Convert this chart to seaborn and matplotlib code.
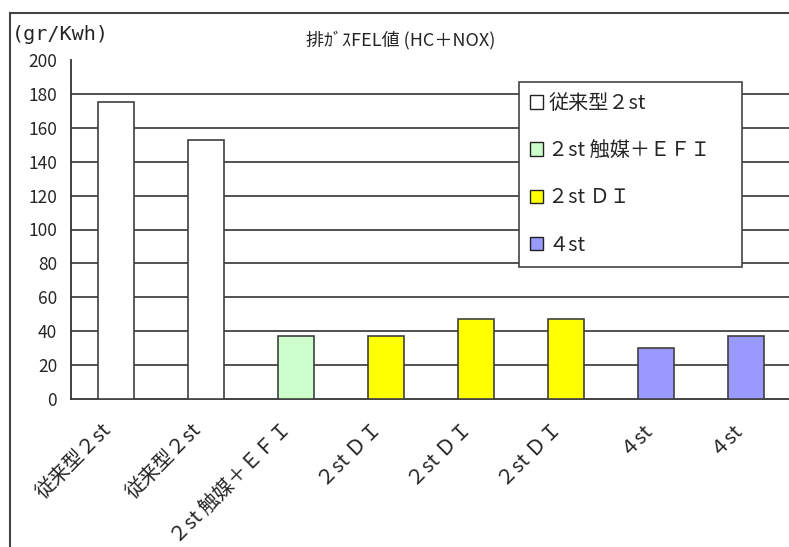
import numpy as np
import pandas as pd
import seaborn as sns
import matplotlib.pyplot as plt
from matplotlib.patches import Patch, Rectangle

# data
tick_labels = ['従来型２st', '従来型２st', '２st 触媒＋ＥＦＩ', '２st ＤＩ',
               '２st ＤＩ', '２st ＤＩ', '４st', '４st']
groups = ['従来型２st', '従来型２st', '２st 触媒＋ＥＦＩ', '２st ＤＩ',
          '２st ＤＩ', '２st ＤＩ', '４st', '４st']
values = [175, 153, 37, 37, 47, 47, 30, 37]
group_order = ['従来型２st', '２st 触媒＋ＥＦＩ', '２st ＤＩ', '４st']
group_colors = ['#FFFFFF', '#CCFFCC', '#FFFF00', '#9999FF']
y_ticks = [0, 20, 40, 60, 80, 100, 120, 140, 160, 180, 200]

df = pd.DataFrame({'pos': range(len(values)), 'group': groups, 'value': values})

sns.set_style('white')
plt.rcParams['font.family'] = ['Noto Sans CJK JP', 'DejaVu Sans']

W, H = 789, 547
fig = plt.figure(figsize=(W / 100, H / 100), dpi=100)
ax = fig.add_axes([71 / W, 148 / H, 720 / W, 339 / H])

sns.barplot(data=df, x='pos', y='value', hue='group', hue_order=group_order,
            palette=dict(zip(group_order, group_colors)), dodge=False,
            width=0.4, saturation=1, edgecolor='#404040', linewidth=1.2,
            legend=False, ax=ax, zorder=3)

ax.set_xlim(-0.5, len(values) - 0.5)
ax.set_ylim(0, 200)
ax.set_yticks(y_ticks)
for y in y_ticks[1:-1]:
    ax.axhline(y, color='#333333', linewidth=1.2, zorder=1)

# category labels, tick marks on the boundaries
ax.set_xticks(range(len(values)))
ax.set_xticklabels(tick_labels, rotation=45, ha='right', va='bottom',
                   rotation_mode='anchor')
ax.set_xticks(np.arange(-0.5, len(values), 1), minor=True)
ax.tick_params(axis='x', which='major', length=0, pad=25, labelsize=14.5)
ax.tick_params(axis='x', which='minor', direction='in', length=5,
               width=1.2, color='#333333')
ax.tick_params(axis='y', direction='in', length=5, width=1.2,
               color='#333333', pad=10, labelsize=12.5)
ax.set_xlabel('')
ax.set_ylabel('')

sns.despine(ax=ax)
for s in ['left', 'bottom']:
    ax.spines[s].set_color('#333333')
    ax.spines[s].set_linewidth(1.3)

handles = [Patch(facecolor=c, edgecolor='#222222', linewidth=1, label=g)
           for g, c in zip(group_order, group_colors)]
leg = ax.legend(handles=handles, loc='upper left',
                bbox_to_anchor=(519 / W, 0, 223 / W, 1 - 82 / H),
                bbox_transform=fig.transFigure, mode='expand',
                borderaxespad=0, fontsize=14.5, handlelength=0.65,
                handleheight=0.65, handletextpad=0.25, labelspacing=1.3,
                borderpad=0.55, frameon=True, fancybox=False, framealpha=1,
                edgecolor='#444444')
leg.get_frame().set_linewidth(1.2)

# chart frame, title and unit
fig.add_artist(Rectangle((10 / W, -0.1), 1.2, 1.1 - 13 / H,
                         transform=fig.transFigure, fill=False,
                         edgecolor='#444444', linewidth=1.5))
fig.text(12 / W, 1 - 34 / H, '(gr/Kwh)', ha='left', va='center',
         family='DejaVu Sans Mono', fontsize=14.5)
fig.text(401 / W, 1 - 40 / H, '排ｶﾞｽFEL値 (HC＋NOX)', ha='center',
         va='center', fontsize=13)

fig.savefig('out.png', dpi=100)
